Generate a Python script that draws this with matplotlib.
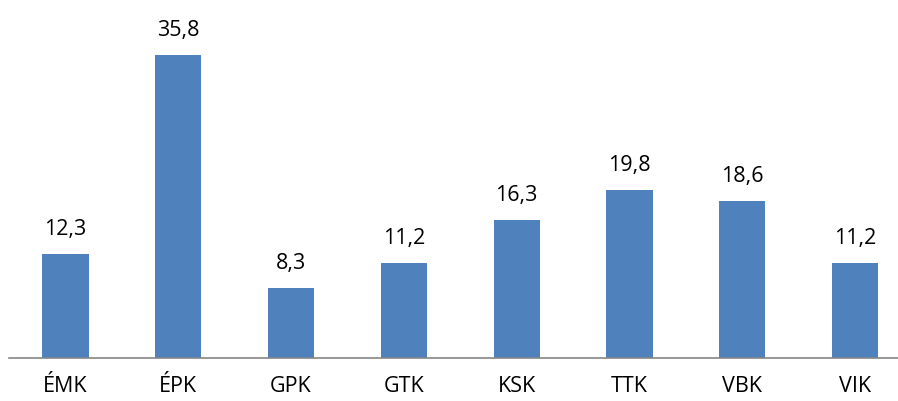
import matplotlib.pyplot as plt

categories = ["ÉMK", "ÉPK", "GPK", "GTK", "KSK", "TTK", "VBK", "VIK"]
values = [12.3, 35.8, 8.3, 11.2, 16.3, 19.8, 18.6, 11.2]
value_labels = ["12,3", "35,8", "8,3", "11,2", "16,3", "19,8", "18,6", "11,2"]

plt.rcParams["font.family"] = ["Open Sans", "DejaVu Sans"]

fig = plt.figure(figsize=(8.98, 4.01), dpi=100)
ax = fig.add_axes([9 / 898, 43 / 401, 889 / 898, 348 / 401])

x = range(len(categories))
bars = ax.bar(x, values, width=0.41, color="#4F81BD")
for b, lab in zip(bars, value_labels):
    ax.annotate(lab, (b.get_x() + b.get_width() / 2, b.get_height()),
                xytext=(0, 10), textcoords="offset points",
                ha="center", va="bottom", fontsize=15.5, color="black")

ax.set_xlim(-0.5, 7.38)
ax.set_ylim(0, 41.1)
ax.set_xticks(list(x))
ax.set_xticklabels(categories, fontsize=15.5)
ax.tick_params(axis="x", length=0, pad=13)
ax.set_yticks([])
for s in ["top", "right", "left"]:
    ax.spines[s].set_visible(False)
ax.spines["bottom"].set_color("#868686")
ax.spines["bottom"].set_linewidth(1.2)

fig.savefig("out.png", dpi=100)
